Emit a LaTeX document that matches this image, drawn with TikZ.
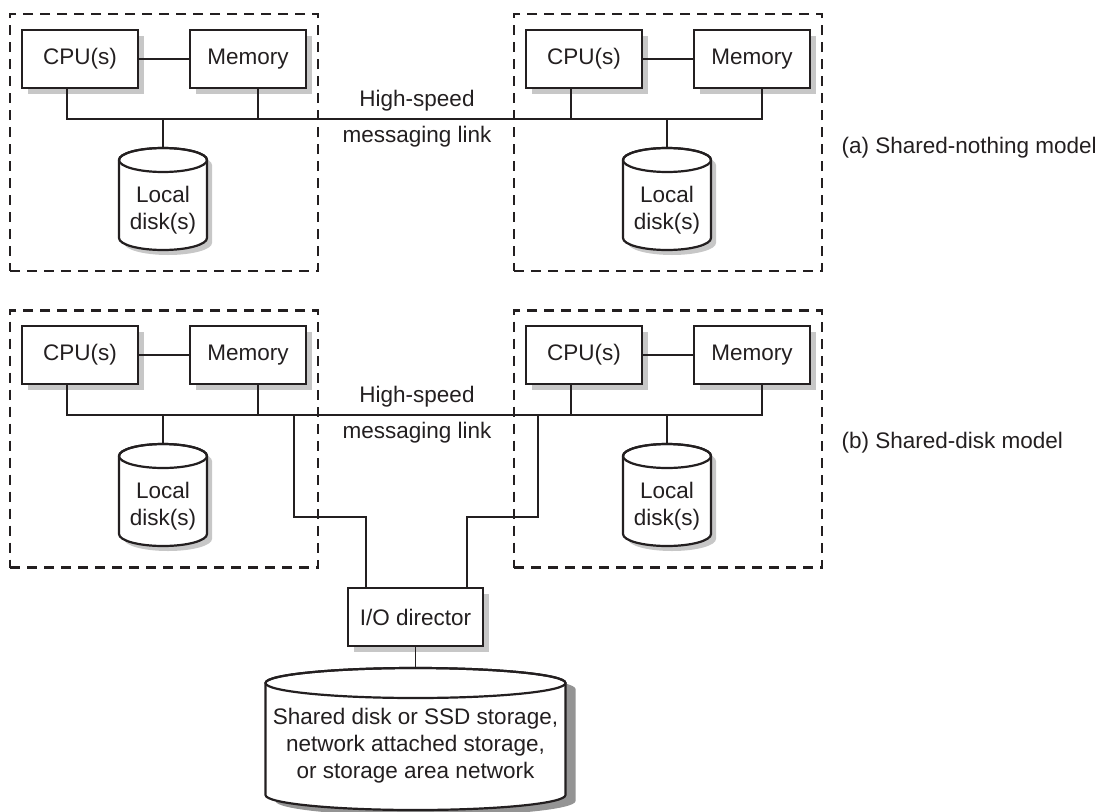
\documentclass[tikz,border=0pt]{standalone}
\usepackage{fontspec}
\setmainfont{Liberation Sans}
\usetikzlibrary{shadows,calc}
\definecolor{ink}{HTML}{231F20}
\tikzset{
 txt/.style={font=\fontsize{22.5}{27}\selectfont, text=ink},
 unit/.style={txt, draw=ink, line width=2.2pt, fill=white, minimum width=116pt, minimum height=58pt, inner sep=0pt,
   drop shadow={shadow xshift=6pt, shadow yshift=-6pt, fill=black!22, opacity=1}},
 iobox/.style={unit, minimum width=135pt},
 wire/.style={draw=ink, line width=1.8pt},
 panel/.style={draw=ink, line width=2.4pt, dash pattern=on 10pt off 7pt, minimum width=308pt, minimum height=257pt, inner sep=0pt},
 disktext/.style={txt, align=center, inner sep=0pt},
}
% cx, top centre, bottom centre, rx, ry, shadow dx, shadow dy, shadow colour
\newcommand\cylshape[8]{%
  \fill[#8] ({#1-#4+#6},{#2+#7}) -- ({#1-#4+#6},{#3+#7})
    arc[start angle=180,end angle=360,x radius=#4pt,y radius=#5pt]
    -- ({#1+#4+#6},{#2+#7})
    arc[start angle=0,end angle=180,x radius=#4pt,y radius=#5pt] -- cycle;
  \draw[draw=ink, line width=2.2pt, fill=white] ({#1-#4},{#2}) -- ({#1-#4},{#3})
    arc[start angle=180,end angle=360,x radius=#4pt,y radius=#5pt]
    -- ({#1+#4},{#2})
    arc[start angle=0,end angle=180,x radius=#4pt,y radius=#5pt] -- cycle;
  \draw[draw=ink, line width=2.2pt] ({#1},{#2}) ellipse[x radius=#4pt,y radius=#5pt];
}
\begin{document}
\begin{tikzpicture}[x=1pt,y=-1pt]
\useasboundingbox (0,0) rectangle (1113,811);

% dashed panels
\node[panel] (pA) at (164,142.5) {};
\node[panel] (pB) at (668,142.5) {};
\node[panel] (pC) at (164,439) {};
\node[panel] (pD) at (668,439) {};

% cylinders
\cylshape{163}{160}{238}{44}{12}{5}{5}{black!22}
\cylshape{667}{160}{238}{44}{12}{5}{5}{black!22}
\cylshape{163}{456}{534}{44}{12}{5}{5}{black!22}
\cylshape{667}{456}{534}{44}{12}{5}{5}{black!22}
\cylshape{415.5}{683}{795}{150}{15}{10}{6}{black!42}

\node[disktext] (diskA) at (163,210) {Local\\disk(s)};
\node[disktext] (diskB) at (667,210) {Local\\disk(s)};
\node[disktext] (diskC) at (163,506) {Local\\disk(s)};
\node[disktext] (diskD) at (667,506) {Local\\disk(s)};
\node[disktext] (shared) at (415.5,746) {Shared disk or SSD storage,\\network attached storage,\\or storage area network};
\coordinate (topA) at (163,148);
\coordinate (topB) at (667,148);
\coordinate (topC) at (163,444);
\coordinate (topD) at (667,444);
\coordinate (topS) at (415.5,668);

% boxes
\node[unit] (cpuA) at (80,59) {CPU(s)};
\node[unit] (memA) at (248,59) {Memory};
\node[unit] (cpuB) at (584,59) {CPU(s)};
\node[unit] (memB) at (752,59) {Memory};
\node[unit] (cpuC) at (80,355) {CPU(s)};
\node[unit] (memC) at (248,355) {Memory};
\node[unit] (cpuD) at (584,355) {CPU(s)};
\node[unit] (memD) at (752,355) {Memory};
\node[iobox] (io) at (415.5,617) {I/O director};

% bus coordinates
\coordinate (busA) at (415,119);
\coordinate (busB) at (415,415);
\coordinate (cA) at ([xshift=-13pt]cpuA.south);
\coordinate (mA) at ([xshift=10pt]memA.south);
\coordinate (cB) at ([xshift=-13pt]cpuB.south);
\coordinate (mB) at ([xshift=10pt]memB.south);
\coordinate (cC) at ([xshift=-13pt]cpuC.south);
\coordinate (mC) at ([xshift=10pt]memC.south);
\coordinate (cD) at ([xshift=-13pt]cpuD.south);
\coordinate (mD) at ([xshift=10pt]memD.south);

% top panel wiring
\draw[wire] (cpuA) -- (memA);
\draw[wire] (cpuB) -- (memB);
\draw[wire] (cA) |- (busA) -| (mB);
\draw[wire] (mA) -- (mA |- busA);
\draw[wire] (cB) -- (cB |- busA);
\draw[wire] (topA) -- (topA |- busA);
\draw[wire] (topB) -- (topB |- busA);

% bottom panel wiring
\draw[wire] (cpuC) -- (memC);
\draw[wire] (cpuD) -- (memD);
\draw[wire] (cC) |- (busB) -| (mD);
\draw[wire] (mC) -- (mC |- busB);
\draw[wire] (cD) -- (cD |- busB);
\draw[wire] (topC) -- (topC |- busB);
\draw[wire] (topD) -- (topD |- busB);

\coordinate (ioL) at ([xshift=-49.5pt]io.north);
\coordinate (ioR) at ([xshift=51.5pt]io.north);
\draw[wire] (ioL) |- (294,517) -- (294,415);
\draw[wire] (ioR) |- (538,517) -- (538,415);
\draw[wire] (io.south) -- (topS);

% labels
\node[txt] (hsA) at (417,101) {High-speed};
\node[txt] (mlA) at (417,137) {messaging link};
\node[txt] (hsB) at (417,397) {High-speed};
\node[txt] (mlB) at (417,433) {messaging link};
\node[txt, anchor=west] (labA) at (838,148) {(a) Shared-nothing model};
\node[txt, anchor=west] (labB) at (838,443) {(b) Shared-disk model};
\end{tikzpicture}
\end{document}
